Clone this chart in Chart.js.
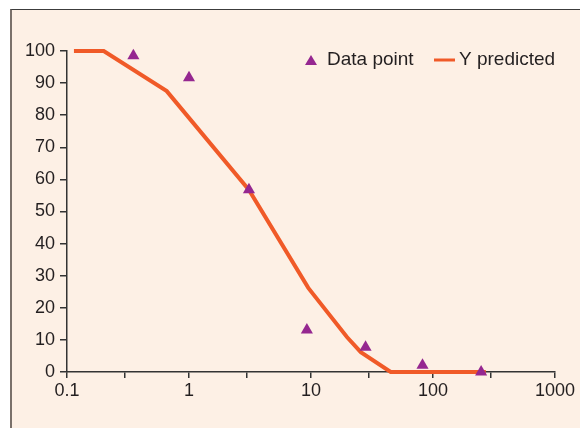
<!DOCTYPE html>
<html>
<head>
<meta charset="utf-8">
<script src="https://cdn.jsdelivr.net/npm/chart.js@4/dist/chart.umd.min.js"></script>
<style>
  html, body { margin: 0; padding: 0; background: #ffffff; }
  #frame {
    position: absolute; left: 10px; top: 9px; width: 570px; height: 419px;
    background: #fdf0e5;
    border-top: 1.5px solid #3c3c3c;
    border-left: 2px solid #7a716b;
  }
  #chart { position: absolute; left: 0; top: 0; }
</style>
</head>
<body>
<div id="frame"></div>
<canvas id="chart" width="580" height="428"></canvas>
<script>
// measured data (triangles)
const dataX = [0.35, 1, 3.1, 9.25, 28, 82, 248];
const dataY = [98.5, 91.7, 56.8, 13.1, 7.7, 2.1, 0];

// predicted curve
const predX = [0.114, 0.2, 0.657, 3.1, 9.5, 19.7, 25.6, 45, 271];
const predY = [100, 100, 87.5, 56.7, 26.2, 10.9, 6.2, 0, 0];

// axis ticks
const xTickValues = [0.1, 0.3, 1, 3, 10, 30, 100, 300, 1000];
const xTickLabels = ['0.1', '', '1', '', '10', '', '100', '', '1000'];
const yTickValues = [0, 10, 20, 30, 40, 50, 60, 70, 80, 90, 100];

const seriesLabels = ['Data point', 'Y predicted'];

const textColor = '#231f20';
const axisColor = '#333333';
const purple = '#952790';
const orange = '#f05a28';

// legend drawn on top of the plot area, right side
const legendPlugin = {
  id: 'cornerLegend',
  afterDraw(chart) {
    const ctx = chart.ctx;
    ctx.save();
    ctx.font = '19px "Liberation Sans", Arial, sans-serif';
    ctx.textBaseline = 'middle';
    const y = 60;
    // triangle marker
    ctx.fillStyle = purple;
    ctx.beginPath();
    ctx.moveTo(311, y - 5);
    ctx.lineTo(317, y + 5);
    ctx.lineTo(305, y + 5);
    ctx.closePath();
    ctx.fill();
    ctx.fillStyle = textColor;
    ctx.fillText(seriesLabels[0], 327, y);
    // line marker
    ctx.strokeStyle = orange;
    ctx.lineWidth = 3;
    ctx.beginPath();
    ctx.moveTo(434, y);
    ctx.lineTo(455, y);
    ctx.stroke();
    ctx.fillText(seriesLabels[1], 459, y);
    ctx.restore();
  }
};

new Chart(document.getElementById('chart'), {
  type: 'scatter',
  data: {
    datasets: [
      {
        label: seriesLabels[1],
        type: 'line',
        data: predX.map((x, i) => ({x: x, y: predY[i]})),
        borderColor: orange,
        borderWidth: 4,
        pointRadius: 0,
        tension: 0,
        fill: false,
        order: 2
      },
      {
        label: seriesLabels[0],
        data: dataX.map((x, i) => ({x: x, y: dataY[i]})),
        pointStyle: 'triangle',
        pointRadius: 7,
        pointBorderWidth: 0,
        backgroundColor: purple,
        borderColor: purple,
        order: 1
      }
    ]
  },
  options: {
    responsive: false,
    animation: false,
    clip: false,
    layout: { padding: { left: 0, right: 25, top: 51, bottom: 0 } },
    plugins: {
      legend: { display: false },
      tooltip: { enabled: false }
    },
    scales: {
      x: {
        type: 'logarithmic',
        min: 0.1,
        max: 1000,
        afterBuildTicks: scale => { scale.ticks = xTickValues.map(v => ({value: v})); },
        afterFit: scale => { scale.height = 56; },
        border: { display: true, color: axisColor, width: 1.5 },
        grid: { drawOnChartArea: false, drawTicks: true, tickLength: 6, color: axisColor, lineWidth: 1.5 },
        ticks: {
          autoSkip: false,
          maxRotation: 0,
          padding: 2,
          color: textColor,
          font: { family: '"Liberation Sans", Arial, sans-serif', size: 18 },
          callback: (v, i) => xTickLabels[i]
        }
      },
      y: {
        min: 0,
        max: 100,
        afterBuildTicks: scale => { scale.ticks = yTickValues.map(v => ({value: v})); },
        afterFit: scale => { scale.width = 67; },
        border: { display: true, color: axisColor, width: 1.5 },
        grid: { drawOnChartArea: false, drawTicks: true, tickLength: 7, color: axisColor, lineWidth: 1.5 },
        ticks: {
          padding: 5,
          color: textColor,
          font: { family: '"Liberation Sans", Arial, sans-serif', size: 18 }
        }
      }
    }
  },
  plugins: [legendPlugin]
});
</script>
</body>
</html>
